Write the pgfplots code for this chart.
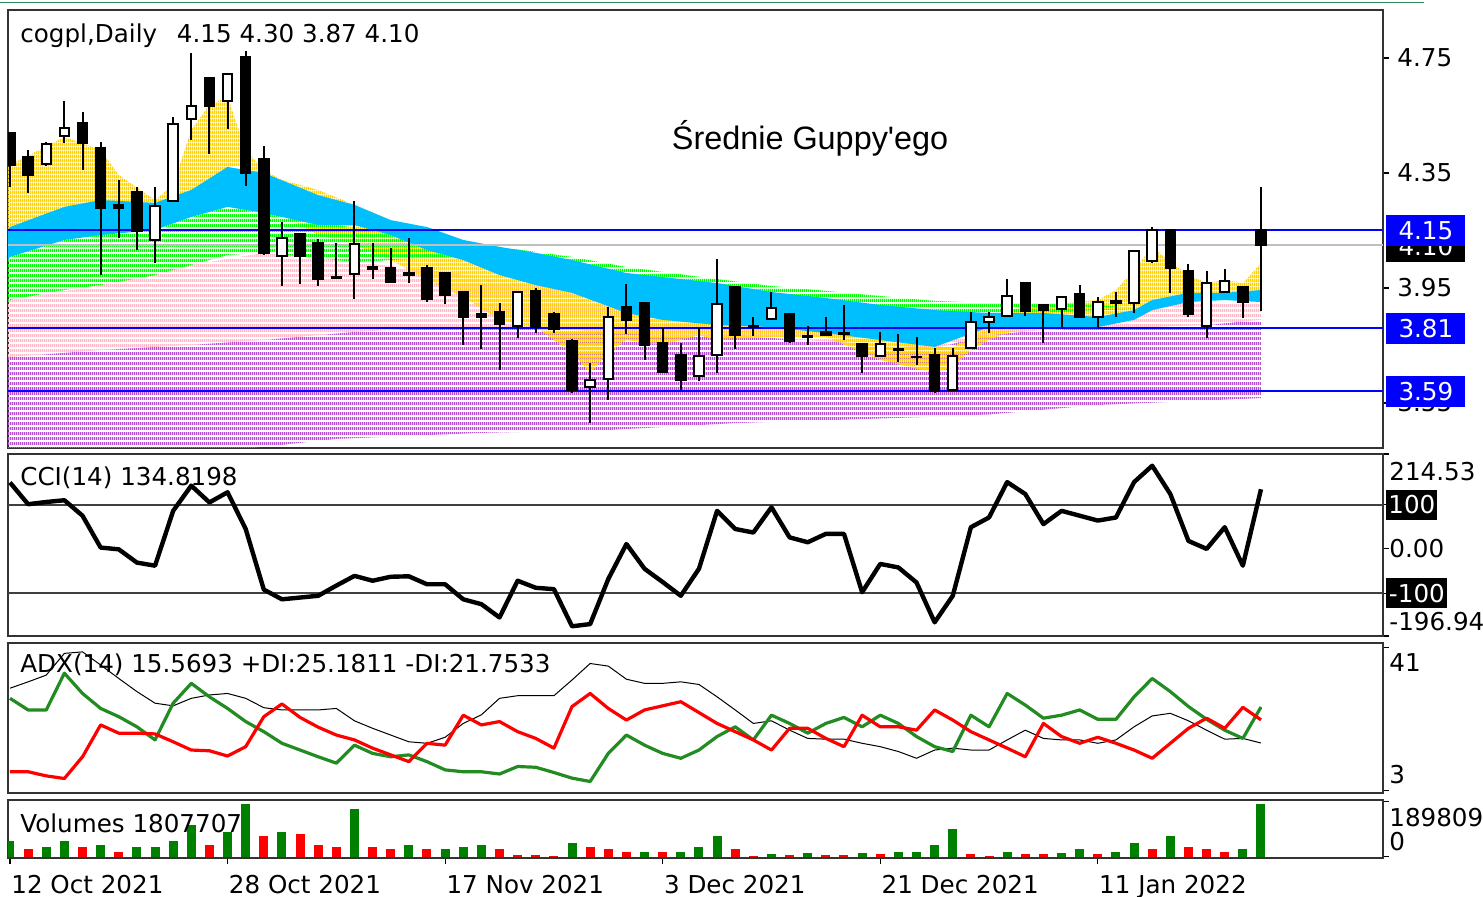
\documentclass[border=0pt]{standalone}
\usepackage{fontspec}
\setmainfont{DejaVu Sans}
\newfontfamily\arialf{Liberation Sans}
\usepackage{pgfplots}
\pgfplotsset{compat=1.18}
\usetikzlibrary{patterns}

\definecolor{gGold}{RGB}{255,208,0}
\definecolor{gBlue}{RGB}{0,191,255}
\definecolor{gGreen}{RGB}{0,255,0}
\definecolor{gPink}{RGB}{255,185,198}
\definecolor{gViolet}{RGB}{180,80,210}
\definecolor{hBlue}{RGB}{0,0,255}
\definecolor{vGreen}{RGB}{0,128,0}
\definecolor{vRed}{RGB}{255,0,0}
\definecolor{aGreen}{RGB}{34,139,34}
\definecolor{topLine}{RGB}{46,139,87}

\pgfdeclarepatternformonly{stripeV}{\pgfqpoint{0pt}{0pt}}{\pgfqpoint{1pt}{2.6pt}}{\pgfqpoint{1pt}{2.6pt}}{\pgfpathrectangle{\pgfqpoint{0pt}{0pt}}{\pgfqpoint{1pt}{1.6pt}}\pgfusepath{fill}}
\pgfdeclarepatternformonly{stripeP}{\pgfqpoint{0pt}{0pt}}{\pgfqpoint{1pt}{2.6pt}}{\pgfqpoint{1pt}{2.6pt}}{\pgfpathrectangle{\pgfqpoint{0pt}{0pt}}{\pgfqpoint{1pt}{1.6pt}}\pgfusepath{fill}}
\pgfdeclarepatternformonly{stripeG}{\pgfqpoint{0pt}{0pt}}{\pgfqpoint{1pt}{2.4pt}}{\pgfqpoint{1pt}{2.4pt}}{\pgfpathrectangle{\pgfqpoint{0pt}{0pt}}{\pgfqpoint{1pt}{1.6pt}}\pgfusepath{fill}}
\pgfdeclarepatternformonly{stripeO}{\pgfqpoint{0pt}{0pt}}{\pgfqpoint{1pt}{2.2pt}}{\pgfqpoint{1pt}{2.2pt}}{\pgfpathrectangle{\pgfqpoint{0pt}{0pt}}{\pgfqpoint{1pt}{1.95pt}}\pgfusepath{fill}}

\newcommand\lbl{\fontsize{12.3pt}{14pt}\selectfont}
\def\XMAX{75.73}

% candle: index, open, high, low, close
\newcommand{\candle}[5]{%
  \pgfmathsetmacro{\xa}{#1-0.26}%
  \pgfmathsetmacro{\xb}{#1+0.26}%
  \ifdim #5pt<#2pt \def\cFill{black}\else\def\cFill{white}\fi
  \edef\cDo{\noexpand\addplot[black, line width=1pt, forget plot] coordinates {(#1,#4) (#1,#3)};%
    \noexpand\addplot[draw=black, line width=1pt, fill=\cFill, forget plot] coordinates {(\xa,#2) (\xb,#2) (\xb,#5) (\xa,#5)} -- cycle;}%
  \cDo}

\pgfplotsset{
  panel/.style={scale only axis, width=687.5pt, xmin=-0.11, xmax=\XMAX,
    anchor=north west,
    axis line style={black!80, line width=0.9pt},
    xtick=\empty, ytick pos=right, tick align=outside, major tick length=3pt,
    xticklabels={}, yticklabels={}, tick label style={opacity=0},
    scaled ticks=false,
    tick style={black, line width=0.6pt}},
  over/.style={scale only axis, width=687.5pt, xmin=-0.11, xmax=\XMAX,
    anchor=north west, hide axis, clip=false},
}
\tikzset{
  rlab/.style={anchor=west, inner sep=0pt, font=\lbl},
  rbox/.style={anchor=west, inner sep=0pt, font=\lbl, text=white, xshift=1.5pt},
}

\begin{document}
\begin{tikzpicture}
\useasboundingbox (0,0) rectangle (741.5pt,-448.5pt);
\draw[topLine, line width=0.6pt] (0,-1.2pt) -- (712pt,-1.2pt);

% ---------------- price panel ----------------
\begin{axis}[panel, at={(4pt,-5pt)}, height=219pt, ymin=3.3934, ymax=4.9169,
  ytick={3.55,3.95,4.35,4.75}]
% violet band (upper edge left to right, lower edge right to left)
\addplot[draw=none, pattern=stripeV, pattern color=gViolet, forget plot] coordinates {(-0.11,3.710) (0,3.710) (5,3.734) (10,3.752) (14,3.769) (17,3.786) (19,3.797) (23,3.811) (27,3.811) (31,3.804) (36,3.786) (42,3.776) (48,3.752) (51,3.741) (54,3.786) (57,3.804) (60,3.811) (63,3.814) (66,3.821) (69,3.839)
 (69,3.567) (60,3.543) (54,3.510) (50,3.500) (40,3.480) (33,3.456) (26,3.446) (18,3.425) (10,3.370) (0,3.317) (-0.11,3.316)} -- cycle;
% pink band
\addplot[draw=none, pattern=stripeP, pattern color=gPink, forget plot] coordinates {(-0.11,3.908) (0,3.908) (5,3.960) (10,4.030) (14,4.072) (17,4.054) (19,4.040) (23,4.013) (27,3.978) (31,3.943) (36,3.908) (42,3.873) (48,3.846) (51,3.839) (54,3.832) (57,3.832) (60,3.832) (63,3.891) (66,3.901) (69,3.901)
 (69,3.839) (66,3.821) (63,3.814) (60,3.811) (57,3.804) (54,3.786) (51,3.741) (48,3.752) (42,3.776) (36,3.786) (31,3.804) (27,3.811) (23,3.811) (19,3.797) (17,3.786) (14,3.769) (10,3.752) (5,3.734) (0,3.710) (-0.11,3.710)} -- cycle;
% gold band
\addplot[draw=none, pattern=stripeO, pattern color=gGold, forget plot] coordinates {(-0.11,4.37) (0,4.378) (3,4.475) (5,4.430) (6,4.343) (8,4.256) (9,4.308) (10,4.500) (11,4.587) (12,4.614) (13,4.430) (14,4.360) (15,4.326) (17,4.291) (19,4.239) (21,4.186) (23,4.134) (25,4.072) (27,4.023) (29,3.978) (31,3.933) (32,3.908) (33,3.884) (34,3.884) (36,3.839) (38,3.839) (39,3.832) (42,3.839) (45,3.814) (48,3.793) (51,3.745) (52,3.745) (53,3.780) (54,3.828) (55,3.873) (57,3.891) (60,3.908) (61,3.943) (62,4.013) (63,4.093) (64,4.040) (65,3.995) (66,3.967) (67,3.978) (68,3.967) (69,4.037)
 (69,3.933) (68,3.926) (67,3.926) (66,3.926) (65,3.926) (64,3.915) (63,3.908) (62,3.856) (61,3.839) (60,3.821) (57,3.821) (55,3.793) (54,3.769) (53,3.734) (52,3.675) (51,3.654) (48,3.700) (45,3.780) (42,3.780) (39,3.769) (38,3.786) (36,3.752) (34,3.769) (33,3.724) (32,3.654) (31,3.724) (29,3.814) (27,3.839) (25,3.919) (23,3.978) (21,4.047) (19,4.100) (17,4.134) (15,4.204) (14,4.280) (13,4.378) (12,4.371) (11,4.291) (10,4.267) (9,4.239) (8,4.211) (6,4.221) (5,4.232) (3,4.232) (0,4.152) (-0.11,4.15)} -- cycle;
% green band
\addplot[draw=none, pattern=stripeG, pattern color=gGreen, forget plot] coordinates {(-0.11,4.05) (0,4.058) (3,4.117) (5,4.141) (8,4.152) (10,4.197) (12,4.232) (14,4.211) (17,4.180) (19,4.159) (23,4.117) (27,4.093) (31,4.058) (34,4.023) (36,4.006) (39,3.981) (42,3.957) (45,3.940) (48,3.922) (51,3.905) (54,3.898) (57,3.898) (60,3.891) (62,3.880)
 (62,3.877) (60,3.873) (57,3.863) (54,3.863) (51,3.870) (48,3.887) (45,3.912) (42,3.933) (39,3.957) (36,3.981) (34,3.999) (31,4.037) (27,4.065) (23,4.054) (19,4.040) (17,4.054) (14,4.072) (12,4.065) (10,4.030) (8,3.995) (5,3.960) (3,3.943) (0,3.908) (-0.11,3.90)} -- cycle;
% blue band
\addplot[draw=none, fill=gBlue, forget plot] coordinates {(-0.11,4.15) (0,4.162) (3,4.232) (5,4.256) (8,4.246) (10,4.291) (12,4.371) (14,4.350) (17,4.273) (19,4.239) (21,4.186) (23,4.162) (25,4.117) (27,4.093) (29,4.072) (31,4.047) (34,4.002) (36,3.988) (39,3.967) (42,3.936) (45,3.915) (48,3.891) (51,3.873) (54,3.863) (57,3.863) (60,3.849) (62,3.873) (63,3.908) (65,3.933) (67,3.933) (69,3.943)
 (69,3.901) (67,3.908) (65,3.901) (63,3.873) (62,3.839) (60,3.814) (57,3.814) (54,3.814) (51,3.745) (48,3.769) (45,3.793) (42,3.814) (39,3.821) (36,3.839) (34,3.863) (31,3.933) (29,3.960) (27,3.995) (25,4.047) (23,4.082) (21,4.134) (19,4.169) (17,4.169) (14,4.211) (12,4.232) (10,4.197) (8,4.152) (5,4.134) (3,4.117) (0,4.058) (-0.11,4.05)} -- cycle;
% level lines
\addplot[black!25, line width=0.8pt] coordinates {(-0.11,4.10) (\XMAX,4.10)};
\addplot[hBlue, line width=1pt] coordinates {(-0.11,4.15) (\XMAX,4.15)};
\addplot[hBlue, line width=1pt] coordinates {(-0.11,3.81) (\XMAX,3.81)};
\addplot[hBlue, line width=1pt] coordinates {(-0.11,3.59) (\XMAX,3.59)};
% candles: i, O, H, L, C
\candle{0}{4.489}{4.490}{4.301}{4.378}
\candle{1}{4.406}{4.430}{4.280}{4.343}
\candle{2}{4.381}{4.458}{4.374}{4.451}
\candle{3}{4.479}{4.600}{4.454}{4.507}
\candle{4}{4.524}{4.562}{4.360}{4.454}
\candle{5}{4.437}{4.458}{3.995}{4.228}
\candle{6}{4.239}{4.326}{4.124}{4.228}
\candle{7}{4.284}{4.301}{4.082}{4.148}
\candle{8}{4.117}{4.301}{4.037}{4.235}
\candle{9}{4.253}{4.545}{4.253}{4.520}
\candle{10}{4.538}{4.767}{4.465}{4.583}
\candle{11}{4.680}{4.680}{4.416}{4.583}
\candle{12}{4.600}{4.694}{4.503}{4.694}
\candle{13}{4.753}{4.774}{4.305}{4.350}
\candle{14}{4.399}{4.444}{4.065}{4.072}
\candle{15}{4.061}{4.180}{3.957}{4.124}
\candle{16}{4.138}{4.141}{3.964}{4.061}
\candle{17}{4.107}{4.120}{3.957}{3.981}
\candle{18}{3.987}{4.107}{3.985}{3.985}
\candle{19}{3.999}{4.253}{3.912}{4.103}
\candle{20}{4.023}{4.107}{3.981}{4.016}
\candle{21}{4.020}{4.089}{3.971}{3.971}
\candle{22}{4.002}{4.124}{3.967}{3.995}
\candle{23}{4.020}{4.030}{3.901}{3.912}
\candle{24}{4.002}{4.002}{3.894}{3.926}
\candle{25}{3.936}{3.936}{3.752}{3.849}
\candle{26}{3.860}{3.960}{3.738}{3.849}
\candle{27}{3.867}{3.898}{3.665}{3.825}
\candle{28}{3.818}{3.936}{3.776}{3.936}
\candle{29}{3.940}{3.950}{3.793}{3.814}
\candle{30}{3.860}{3.867}{3.793}{3.807}
\candle{31}{3.766}{3.773}{3.585}{3.595}
\candle{32}{3.606}{3.689}{3.480}{3.630}
\candle{33}{3.633}{3.884}{3.560}{3.849}
\candle{34}{3.884}{3.964}{3.790}{3.839}
\candle{35}{3.898}{3.898}{3.700}{3.752}
\candle{36}{3.759}{3.811}{3.658}{3.658}
\candle{37}{3.717}{3.759}{3.595}{3.630}
\candle{38}{3.644}{3.811}{3.627}{3.713}
\candle{39}{3.717}{4.051}{3.654}{3.894}
\candle{40}{3.953}{3.953}{3.738}{3.787}
\candle{41}{3.818}{3.849}{3.783}{3.815}
\candle{42}{3.842}{3.936}{3.842}{3.880}
\candle{43}{3.860}{3.860}{3.759}{3.766}
\candle{44}{3.782}{3.818}{3.752}{3.779}
\candle{45}{3.797}{3.849}{3.787}{3.787}
\candle{46}{3.795}{3.891}{3.769}{3.790}
\candle{47}{3.755}{3.755}{3.654}{3.713}
\candle{48}{3.713}{3.797}{3.713}{3.755}
\candle{49}{3.737}{3.790}{3.693}{3.734}
\candle{50}{3.711}{3.780}{3.682}{3.710}
\candle{51}{3.717}{3.741}{3.585}{3.592}
\candle{52}{3.595}{3.741}{3.595}{3.713}
\candle{53}{3.741}{3.867}{3.741}{3.832}
\candle{54}{3.832}{3.867}{3.793}{3.849}
\candle{55}{3.853}{3.981}{3.849}{3.922}
\candle{56}{3.967}{3.967}{3.853}{3.870}
\candle{57}{3.891}{3.891}{3.759}{3.873}
\candle{58}{3.877}{3.919}{3.814}{3.919}
\candle{59}{3.929}{3.960}{3.849}{3.849}
\candle{60}{3.849}{3.919}{3.814}{3.901}
\candle{61}{3.899}{3.936}{3.849}{3.903}
\candle{62}{3.898}{4.079}{3.863}{4.079}
\candle{63}{4.044}{4.162}{4.037}{4.152}
\candle{64}{4.152}{4.152}{3.933}{4.020}
\candle{65}{4.009}{4.034}{3.849}{3.860}
\candle{66}{3.818}{4.009}{3.776}{3.967}
\candle{67}{3.936}{4.016}{3.936}{3.974}
\candle{68}{3.953}{3.953}{3.846}{3.901}
\candle{69}{4.15}{4.30}{3.87}{4.10}
\end{axis}
\begin{axis}[over, at={(4pt,-5pt)}, height=219pt, ymin=3.3934, ymax=4.9169]
\node[rlab, xshift=6pt, yshift=-13pt] at (rel axis cs:0,1) {cogpl,Daily\hspace{6pt} 4.15 4.30 3.87 4.10};
\node[font=\arialf\fontsize{16.2pt}{18pt}\selectfont, inner sep=0pt] at (axis cs:44.13,4.472) {Średnie Guppy'ego};
\node[rlab, xshift=7pt] at (axis cs:\XMAX,4.75) {4.75};
\node[rlab, xshift=7pt] at (axis cs:\XMAX,4.35) {4.35};
\node[rlab, xshift=7pt] at (axis cs:\XMAX,3.95) {3.95};
\node[rlab, xshift=7pt] at (axis cs:\XMAX,3.55) {3.55};
\node[rbox, fill=black, minimum width=39.5pt, minimum height=15.5pt] at (axis cs:\XMAX,4.095) {4.10};
\node[rbox, fill=hBlue, minimum width=39.5pt, minimum height=15.5pt] at (axis cs:\XMAX,4.15) {4.15};
\node[rbox, fill=hBlue, minimum width=39.5pt, minimum height=15.5pt] at (axis cs:\XMAX,3.81) {3.81};
\node[rbox, fill=hBlue, minimum width=39.5pt, minimum height=15.5pt] at (axis cs:\XMAX,3.59) {3.59};
\end{axis}

% ---------------- CCI panel ----------------
\begin{axis}[panel, at={(4pt,-227pt)}, height=91pt, ymin=-196.94, ymax=214.53,
  ytick={-196.94,-100,0,100,214.53}]
\addplot[black!75, line width=1pt] coordinates {(-0.11,100) (\XMAX,100)};
\addplot[black!75, line width=1pt] coordinates {(-0.11,-100) (\XMAX,-100)};
\addplot[black, line width=2.2pt, line join=round] coordinates {(0,150) (1,101) (2,106) (3,110) (4,75) (5,3) (6,-1) (7,-31) (8,-38) (9,86) (10,143) (11,105) (12,128) (13,45) (14,-92) (15,-114) (16,-110) (17,-106) (18,-83) (19,-61) (20,-72) (21,-63) (22,-62) (23,-80) (24,-80) (25,-114) (26,-125) (27,-155) (28,-72) (29,-88) (30,-91) (31,-175) (32,-170) (33,-68) (34,11) (35,-45) (36,-75) (37,-106) (38,-45) (39,86) (40,45) (41,37) (42,94) (43,26) (44,15) (45,34) (46,34) (47,-98) (48,-34) (49,-42) (50,-76) (51,-166) (52,-106) (53,49) (54,71) (55,151) (56,124) (57,56) (58,86) (59,75) (60,64) (61,71) (62,151) (63,188) (64,124) (65,18) (66,0) (67,49) (68,-38) (69,134.82)};
\end{axis}
\begin{axis}[over, at={(4pt,-227pt)}, height=91pt, ymin=-196.94, ymax=214.53]
\node[rlab, xshift=6pt, yshift=-12pt] at (rel axis cs:0,1) {CCI(14) 134.8198};
\node[rlab, xshift=3pt] at (rel axis cs:1,0.901) {214.53};
\node[rbox, fill=black, minimum width=25.5pt, minimum height=15pt] at (axis cs:\XMAX,100) {100};
\node[rlab, xshift=3pt] at (axis cs:\XMAX,0) {0.00};
\node[rlab, xshift=3pt] at (rel axis cs:1,0.077) {-196.94};
\node[rbox, fill=black, minimum width=30.5pt, minimum height=15pt] at (axis cs:\XMAX,-100) {-100};
\end{axis}

% ---------------- ADX panel ----------------
\begin{axis}[panel, at={(4pt,-321.5pt)}, height=75pt, ymin=2.23, ymax=42.27, ytick={3,41}]
\addplot[black, line width=0.5pt] coordinates {(0,30.2) (1,31.9) (2,33.7) (3,39.5) (4,39.9) (5,36.4) (6,32.8) (7,29.3) (8,26.2) (9,25.5) (10,27.5) (11,28.4) (12,28.8) (13,27.5) (14,25.0) (15,24.4) (16,24.4) (17,24.4) (18,24.8) (19,21.5) (20,19.5) (21,17.7) (22,15.9) (23,15.5) (24,17.1) (25,20.8) (26,23.1) (27,27.5) (28,28.2) (29,28.2) (30,28.2) (31,32.4) (32,36.8) (33,36.1) (34,32.6) (35,31.5) (36,31.5) (37,31.9) (38,31.2) (39,27.9) (40,24.4) (41,20.8) (42,21.5) (43,19.0) (44,16.8) (45,16.6) (46,16.6) (47,15.5) (48,14.6) (49,13.3) (50,11.5) (51,13.7) (52,14.2) (53,13.7) (54,13.7) (55,16.4) (56,19.0) (57,16.8) (58,16.4) (59,16.4) (60,15.5) (61,16.4) (62,19.9) (63,22.8) (64,23.5) (65,21.5) (66,19.0) (67,16.6) (68,16.8) (69,15.57)};
\addplot[aGreen, line width=1.6pt, line join=round] coordinates {(0,27.5) (1,24.4) (2,24.4) (3,34.2) (4,28.8) (5,24.8) (6,22.6) (7,19.9) (8,16.4) (9,26.2) (10,31.5) (11,27.9) (12,24.8) (13,21.3) (14,18.6) (15,15.5) (16,13.7) (17,11.9) (18,10.2) (19,15.0) (20,12.8) (21,11.9) (22,12.4) (23,10.6) (24,8.4) (25,7.9) (26,7.9) (27,7.3) (28,9.3) (29,9.1) (30,7.7) (31,6.2) (32,5.3) (33,12.8) (34,17.7) (35,15.0) (36,12.8) (37,11.5) (38,13.7) (39,17.3) (40,19.9) (41,16.4) (42,23.0) (43,20.8) (44,18.2) (45,20.8) (46,22.4) (47,19.9) (48,23.0) (49,20.8) (50,17.3) (51,14.6) (52,13.3) (53,23.0) (54,19.9) (55,28.8) (56,25.7) (57,22.2) (58,23.0) (59,24.4) (60,21.9) (61,21.9) (62,27.9) (63,32.8) (64,29.3) (65,25.3) (66,21.9) (67,19.0) (68,16.8) (69,25.18)};
\addplot[vRed, line width=1.6pt, line join=round] coordinates {(0,7.9) (1,7.9) (2,6.8) (3,6.1) (4,11.9) (5,20.4) (6,18.2) (7,18.2) (8,18.0) (9,15.9) (10,13.7) (11,13.5) (12,12.1) (13,14.6) (14,22.6) (15,26.0) (16,22.4) (17,19.8) (18,17.7) (19,16.4) (20,14.2) (21,12.4) (22,10.6) (23,15.5) (24,15.0) (25,23.0) (26,20.4) (27,21.3) (28,18.6) (29,16.8) (30,14.2) (31,25.3) (32,28.8) (33,24.8) (34,21.7) (35,24.4) (36,25.5) (37,26.6) (38,23.7) (39,20.8) (40,18.6) (41,16.4) (42,13.7) (43,19.5) (44,19.5) (45,16.8) (46,14.6) (47,23.0) (48,19.9) (49,19.9) (50,19.0) (51,24.4) (52,21.7) (53,18.6) (54,16.4) (55,14.2) (56,11.9) (57,20.8) (58,17.3) (59,15.5) (60,17.1) (61,15.5) (62,13.7) (63,11.5) (64,15.5) (65,19.5) (66,22.2) (67,19.5) (68,25.1) (69,21.75)};
\end{axis}
\begin{axis}[over, at={(4pt,-321.5pt)}, height=75pt, ymin=2.23, ymax=42.27]
\node[rlab, xshift=6pt, yshift=-11pt] at (rel axis cs:0,1) {ADX(14) 15.5693 +DI:25.1811 -DI:21.7533};
\node[rlab, xshift=3pt] at (rel axis cs:1,0.873) {41};
\node[rlab, xshift=3pt] at (rel axis cs:1,0.12) {3};
\end{axis}

% ---------------- Volume panel ----------------
\begin{axis}[panel, at={(4pt,-400pt)}, height=29pt, ymin=-45000, ymax=1959800,
  ytick={0,1898090}, xtick={0,12,24,36,48,60}, xtick pos=left]
\addplot[ycomb, vGreen, line width=4.5pt] coordinates {(0,552670) (2,322390) (3,552670) (5,402990) (7,322390) (8,322390) (9,552670) (10,1093830) (12,863550) (13,1807707) (15,863550) (19,1646500) (22,402990) (24,253310) (25,322390) (26,402990) (31,483590) (35,172710) (37,172710) (38,322390) (39,713870) (42,92110) (44,138170) (47,138170) (49,172710) (50,172710) (51,402990) (52,944150) (55,172710) (58,138170) (59,253310) (61,172710) (62,483590) (64,713870) (68,253310) (69,1807707)};
\addplot[ycomb, vRed, line width=4.5pt] coordinates {(1,253310) (4,322390) (6,172710) (11,402990) (14,713870) (16,782950) (17,402990) (18,322390) (20,322390) (21,253310) (23,253310) (27,253310) (28,57570) (29,57570) (30,23030) (32,322390) (33,253310) (34,172710) (36,172710) (40,253310) (41,34540) (43,57570) (45,57570) (46,57570) (48,92110) (53,92110) (54,23030) (56,92110) (57,92110) (60,92110) (63,253310) (65,322390) (66,253310) (67,172710)};
\end{axis}
\begin{axis}[over, at={(4pt,-400pt)}, height=29pt, ymin=-45000, ymax=1959800]
\node[rlab, xshift=6pt, yshift=-11.5pt] at (rel axis cs:0,1) {Volumes 1807707};
\node[rlab, xshift=3pt] at (rel axis cs:1,0.69) {1898090};
\node[rlab, xshift=3pt] at (rel axis cs:1,0.276) {0};
\node[anchor=north west, inner sep=0pt, font=\lbl, xshift=0.5pt, yshift=-8.5pt] at (axis cs:0,-45000) {12 Oct 2021};
\node[anchor=north west, inner sep=0pt, font=\lbl, xshift=0.5pt, yshift=-8.5pt] at (axis cs:12,-45000) {28 Oct 2021};
\node[anchor=north west, inner sep=0pt, font=\lbl, xshift=0.5pt, yshift=-8.5pt] at (axis cs:24,-45000) {17 Nov 2021};
\node[anchor=north west, inner sep=0pt, font=\lbl, xshift=0.5pt, yshift=-8.5pt] at (axis cs:36,-45000) {3 Dec 2021};
\node[anchor=north west, inner sep=0pt, font=\lbl, xshift=0.5pt, yshift=-8.5pt] at (axis cs:48,-45000) {21 Dec 2021};
\node[anchor=north west, inner sep=0pt, font=\lbl, xshift=0.5pt, yshift=-8.5pt] at (axis cs:60,-45000) {11 Jan 2022};
\end{axis}
\end{tikzpicture}
\end{document}
